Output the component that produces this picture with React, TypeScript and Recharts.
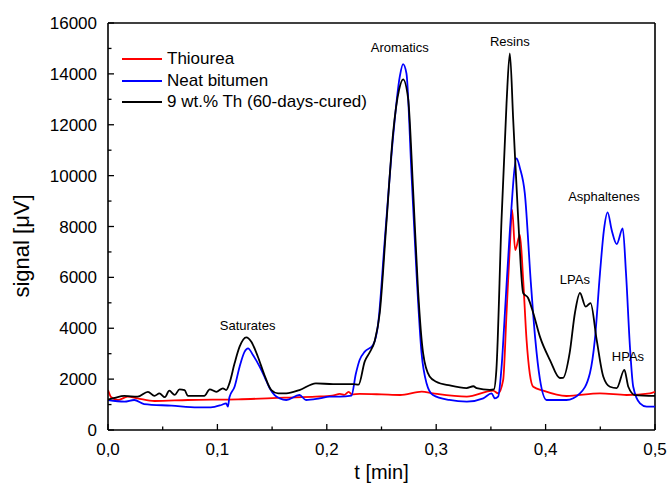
import React from "react";
import { LineChart, Line, XAxis, YAxis, Legend, ReferenceLine, ReferenceDot, Label } from "recharts";

// [t (min), signal (µV)]
const thiourea: [number, number][] = [
  [0, 1570], [0.003, 1285], [0.009, 1180], [0.018, 1310], [0.027, 1245], [0.0425, 1140],
  [0.073, 1180], [0.119, 1205], [0.1615, 1270], [0.19, 1310], [0.205, 1350], [0.212, 1420],
  [0.216, 1380], [0.22, 1500], [0.223, 1400], [0.23, 1420], [0.25, 1400], [0.267, 1375],
  [0.2868, 1505], [0.297, 1440], [0.328, 1310], [0.352, 1545], [0.3566, 1440], [0.3612, 1965],
  [0.3643, 4600], [0.3673, 7200], [0.3694, 8650], [0.3722, 7076], [0.3765, 7665], [0.3795, 5900],
  [0.3826, 3540], [0.3856, 2200], [0.3887, 1700], [0.3978, 1545], [0.419, 1336], [0.4497, 1440],
  [0.474, 1375], [0.4954, 1440], [0.5, 1500],
];

const neatBitumen: [number, number][] = [
  [0, 1180], [0.015, 1115], [0.024, 1180], [0.033, 1020], [0.058, 956], [0.082, 890],
  [0.094, 890], [0.1036, 983], [0.108, 1048], [0.1096, 917], [0.111, 1285], [0.1157, 1700],
  [0.1203, 2490], [0.1249, 3080], [0.128, 3210], [0.1325, 2950], [0.1386, 2490], [0.143, 2100],
  [0.1478, 1640], [0.1523, 1375], [0.157, 1245], [0.163, 1180], [0.175, 1375], [0.181, 1180],
  [0.1935, 1245], [0.2026, 1310], [0.2118, 1310], [0.2225, 1350], [0.2265, 2200], [0.23, 2750],
  [0.2347, 3080], [0.2423, 3340], [0.247, 4200], [0.253, 7470], [0.2606, 11530], [0.2667, 13890],
  [0.2697, 14387], [0.2728, 14020], [0.2774, 10100], [0.282, 6170], [0.2866, 3030], [0.2911, 1850],
  [0.297, 1375], [0.312, 1180], [0.328, 1115], [0.343, 1245], [0.3506, 1440], [0.3536, 1245],
  [0.3566, 1310], [0.36, 2620], [0.3628, 4600], [0.3673, 7800], [0.3735, 10680], [0.3765, 10300],
  [0.381, 9300], [0.3865, 5800], [0.3905, 3600], [0.3948, 2000], [0.4009, 1180], [0.419, 1180],
  [0.4314, 1440], [0.4405, 2230], [0.445, 3540], [0.4497, 6160], [0.4533, 7860], [0.4567, 8555],
  [0.4604, 7860], [0.465, 7310], [0.4705, 7925], [0.4735, 6160], [0.4771, 3275], [0.4801, 1700],
  [0.4863, 1048], [0.4924, 917], [0.5, 917],
];

const cured: [number, number][] = [
  [0, 1200], [0.005, 1250], [0.015, 1340], [0.027, 1310], [0.0365, 1500], [0.0425, 1340],
  [0.047, 1440], [0.052, 1290], [0.056, 1545], [0.061, 1380], [0.0654, 1600], [0.07, 1570],
  [0.073, 1340], [0.088, 1340], [0.093, 1600], [0.099, 1500], [0.105, 1640], [0.108, 1570],
  [0.111, 1835], [0.1157, 2620], [0.1203, 3275], [0.1264, 3640], [0.131, 3470], [0.137, 2880],
  [0.143, 2160], [0.1493, 1570], [0.1555, 1440], [0.163, 1440], [0.175, 1570], [0.19, 1835],
  [0.2057, 1800], [0.2118, 1800], [0.224, 1800], [0.229, 1780], [0.2347, 2700], [0.2392, 3050],
  [0.2438, 3500], [0.2484, 4600], [0.2545, 8140], [0.2606, 11675], [0.266, 13365], [0.2697, 13786],
  [0.2743, 13050], [0.2789, 9430], [0.2834, 5500], [0.288, 3030], [0.294, 2100], [0.3, 1900],
  [0.3125, 1750], [0.3277, 1650], [0.334, 1720], [0.337, 1650], [0.349, 1580], [0.3527, 1600],
  [0.355, 2360], [0.3597, 8255], [0.3643, 12850], [0.3673, 14807], [0.3704, 12186], [0.375, 8255],
  [0.3795, 5385], [0.384, 5190], [0.3887, 4600], [0.3948, 3670], [0.404, 2750], [0.413, 2044],
  [0.416, 2050], [0.422, 3030], [0.4268, 4600], [0.4314, 5385], [0.4366, 4848], [0.4411, 4990],
  [0.4467, 3540], [0.4527, 2100], [0.4588, 1700], [0.465, 1650], [0.472, 2360], [0.4756, 1700],
  [0.4817, 1375], [0.5, 1340],
];

const xTicks = [0, 0.05, 0.1, 0.15, 0.2, 0.25, 0.3, 0.35, 0.4, 0.45, 0.5];
const yTicks = [0, 1000, 2000, 3000, 4000, 5000, 6000, 7000, 8000, 9000, 10000, 11000, 12000, 13000, 14000, 15000, 16000];

const peakLabels = [
  { name: "Saturates", t: 0.1276, v: 4128 },
  { name: "Aromatics", t: 0.2667, v: 15056 },
  { name: "Resins", t: 0.3673, v: 15292 },
  { name: "Asphaltenes", t: 0.4533, v: 9199 },
  { name: "LPAs", t: 0.4268, v: 5936 },
  { name: "HPAs", t: 0.4753, v: 2909 },
];

const toRows = (pts: [number, number][]) => pts.map(([t, v]) => ({ t, v }));

const series = [
  { name: "Thiourea", color: "#ff0000", data: toRows(thiourea) },
  { name: "Neat bitumen", color: "#0000ff", data: toRows(neatBitumen) },
  { name: "9 wt.% Th (60-days-cured)", color: "#000000", data: toRows(cured) },
];

const FONT = "Arial, 'Liberation Sans', sans-serif";

const XTick = (props: any) => {
  const { x, y, payload } = props;
  const major = Math.round(payload.value * 100) % 10 === 0;
  return (
    <g>
      <line x1={x} x2={x} y1={y} y2={y - (major ? 6 : 3.5)} stroke="#000" strokeWidth={1.3} />
      {major && (
        <text x={x} y={y + 25} textAnchor="middle" fontSize={17} fontFamily={FONT} fill="#000">
          {payload.value.toFixed(1).replace(".", ",")}
        </text>
      )}
    </g>
  );
};

const YTick = (props: any) => {
  const { x, y, payload } = props;
  const major = payload.value % 2000 === 0;
  return (
    <g>
      <line x1={x} x2={x + (major ? 6 : 3.5)} y1={y} y2={y} stroke="#000" strokeWidth={1.3} />
      {major && (
        <text x={x - 11} y={y} dy="0.36em" textAnchor="end" fontSize={17} fontFamily={FONT} fill="#000">
          {payload.value}
        </text>
      )}
    </g>
  );
};

const renderLegend = () => (
  <div style={{ fontFamily: FONT, fontSize: 17, lineHeight: "21.7px", color: "#000" }}>
    {series.map((s) => (
      <div key={s.name} style={{ display: "flex", alignItems: "center", whiteSpace: "nowrap" }}>
        <svg width={40} height={4}>
          <line x1={0} x2={40} y1={2} y2={2} stroke={s.color} strokeWidth={2} />
        </svg>
        <span style={{ marginLeft: 5 }}>{s.name}</span>
      </div>
    ))}
  </div>
);

export default function App() {
  return (
    <div style={{ position: "absolute", left: 0, top: 0, background: "#fff" }}>
      <LineChart width={668} height={484} margin={{ top: 23, right: 13, bottom: 0, left: 0 }}>
        <XAxis
          dataKey="t"
          type="number"
          domain={[0, 0.5]}
          ticks={xTicks}
          interval={0}
          height={54}
          tickSize={0}
          tickMargin={0}
          tickLine={false}
          tick={<XTick />}
          axisLine={{ stroke: "#000", strokeWidth: 1.6 }}
          allowDataOverflow
        >
          <Label
            content={(p: any) => (
              <text
                x={p.viewBox.x + p.viewBox.width / 2}
                y={p.viewBox.y + 49}
                textAnchor="middle"
                fontSize={20}
                fontFamily={FONT}
                fill="#000"
              >
                t [min]
              </text>
            )}
          />
        </XAxis>
        <YAxis
          type="number"
          domain={[0, 16000]}
          ticks={yTicks}
          interval={0}
          width={108}
          tickSize={0}
          tickMargin={0}
          tickLine={false}
          tick={<YTick />}
          axisLine={{ stroke: "#000", strokeWidth: 1.6 }}
          allowDataOverflow
        >
          <Label
            content={() => (
              <text
                x={29}
                y={246}
                transform="rotate(-90 29 246)"
                textAnchor="middle"
                fontSize={22}
                fontFamily={FONT}
                fill="#000"
              >
                signal [μV]
              </text>
            )}
          />
        </YAxis>
        <ReferenceLine y={16000} stroke="#000" strokeWidth={1.6} />
        <ReferenceLine x={0.5} stroke="#000" strokeWidth={1.6} />
        {series.map((s) => (
          <Line
            key={s.name}
            data={s.data}
            dataKey="v"
            name={s.name}
            type="monotone"
            stroke={s.color}
            strokeWidth={1.8}
            dot={false}
            activeDot={false}
            isAnimationActive={false}
          />
        ))}
        {peakLabels.map((p) => (
          <ReferenceDot
            key={p.name}
            x={p.t}
            y={p.v}
            r={0}
            stroke="none"
            fill="none"
            label={{ value: p.name, position: "center", fontSize: 13, fontFamily: FONT, fill: "#000" }}
          />
        ))}
        <Legend
          layout="vertical"
          align="center"
          verticalAlign="middle"
          wrapperStyle={{ top: 48, left: 122, width: "auto" }}
          content={renderLegend}
        />
      </LineChart>
    </div>
  );
}
